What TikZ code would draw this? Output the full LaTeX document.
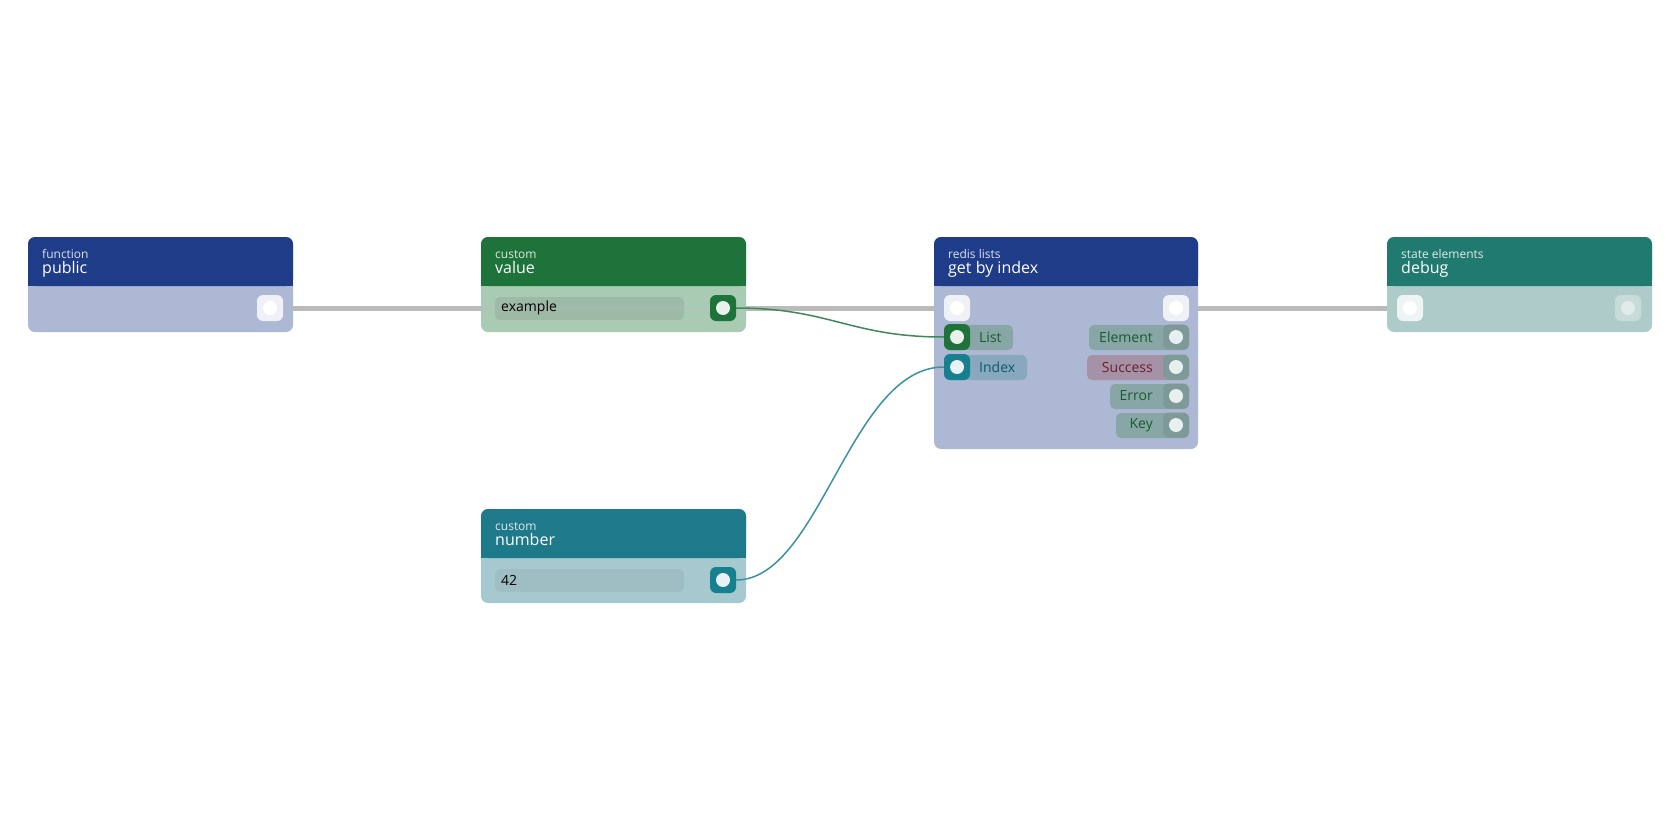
\documentclass[tikz,border=0pt]{standalone}
\usepackage{fontspec}
\setmainfont{Open Sans}
\begin{document}
\begin{tikzpicture}[x=1pt,y=-1pt,
 body/.style={rounded corners=7pt},
 sub/.style={anchor=base west,text=white,opacity=.85,font=\fontsize{12}{12}\selectfont,inner sep=0},
 ttl/.style={anchor=base west,text=white,font=\fontsize{16}{16}\selectfont,inner sep=0},
 port/.style={fill=#1,rounded corners=6pt,minimum size=26pt,inner sep=0},
 dot/.style={circle,fill=#1,minimum size=14pt,inner sep=0},
 lbl/.style={font=\fontsize{14}{14}\selectfont,inner sep=0},
 exec/.style={line width=5pt,draw=black!27},
]
\definecolor{hblue}{HTML}{1F3C88}\definecolor{bblue}{HTML}{ADB8D4}
\definecolor{hgreen}{HTML}{1D7339}\definecolor{bgreen}{HTML}{A9CBB4}
\definecolor{hteal}{HTML}{1E7A8A}\definecolor{bteal}{HTML}{A6C9CF}
\definecolor{hdeb}{HTML}{217A70}\definecolor{bdeb}{HTML}{AFCBC9}
\definecolor{pteal}{HTML}{17808F}
\definecolor{succ}{HTML}{A592A6}\definecolor{succt}{HTML}{6E1E2D}
\definecolor{idxb}{HTML}{87A8BF}\definecolor{lblb}{HTML}{88A6A5}
\definecolor{fgreen}{HTML}{9CBAA5}\definecolor{fteal}{HTML}{9EBEC3}
\path[use as bounding box] (0,0) rectangle (1680,840);
\fill[white] (0,0) rectangle (1680,840);
% ports coordinates
\coordinate (pubout) at (270,308);
\coordinate (valout) at (723,308);
\coordinate (getin) at (957,308);
\coordinate (getout) at (1176,308);
\coordinate (listin) at (957,337);
\coordinate (idxin) at (957,367);
\coordinate (debin) at (1410,308);
\coordinate (numout) at (723,580);
% exec edges behind
\draw[exec] (pubout) -- (getin);
\draw[exec] (getout) -- (debin);
% node bodies
\fill[bblue,body] (28,237) rectangle (293,332);
\fill[hblue,rounded corners=7pt] (28,286) |- (293,237) |- cycle;
\fill[hblue] (28,276) rectangle (293,286);
\fill[bgreen,body] (481,237) rectangle (746,332);
\fill[hgreen,rounded corners=7pt] (481,286) |- (746,237) |- cycle;
\fill[hgreen] (481,276) rectangle (746,286);
\fill[bblue,body] (934,237) rectangle (1198,449);
\fill[hblue,rounded corners=7pt] (934,286) |- (1198,237) |- cycle;
\fill[hblue] (934,276) rectangle (1198,286);
\fill[bdeb,body] (1387,237) rectangle (1652,332);
\fill[hdeb,rounded corners=7pt] (1387,286) |- (1652,237) |- cycle;
\fill[hdeb] (1387,276) rectangle (1652,286);
\fill[bteal,body] (481,509) rectangle (746,603);
\fill[hteal,rounded corners=7pt] (481,558) |- (746,509) |- cycle;
\fill[hteal] (481,548) rectangle (746,558);
% headers
\node[sub] (s1) at (42,258) {function}; \node[ttl] (t1) at (42,273) {public};
\node[sub] (s2) at (495,258) {custom}; \node[ttl] (t2) at (495,273) {value};
\node[sub] (s3) at (948,258) {redis lists}; \node[ttl] (t3) at (948,273) {get by index};
\node[sub] (s4) at (1401,258) {state elements}; \node[ttl] (t4) at (1401,273) {debug};
\node[sub] (s5) at (495,530) {custom}; \node[ttl] (t5) at (495,545) {number};
% fields
\fill[fgreen,rounded corners=5pt] (495,297) rectangle (684,320);
\draw[line width=5pt,draw=black!27,opacity=.2] (481,308) -- (746,308);
\node[lbl,anchor=west] (ex) at (501,308) {example};
\fill[fteal,rounded corners=5pt] (495,569) rectangle (684,592);
\node[lbl,anchor=west] (n42) at (501,580) {42};
% get by index labels
\fill[lblb,rounded corners=5pt] (944,325) rectangle (1013,350);
\node[lbl,anchor=west,text=hgreen!80!black] (Ll) at (979,337) {List};
\fill[idxb,rounded corners=5pt] (944,355) rectangle (1027,380);
\node[lbl,anchor=west,text=pteal!70!black] (Il) at (979,367) {Index};
\fill[lblb,rounded corners=5pt] (1089,325) rectangle (1189,350);
\node[lbl,anchor=east,text=hgreen!80!black] (El) at (1153,337) {Element};
\fill[succ,rounded corners=5pt] (1087,355) rectangle (1189,380);
\node[lbl,anchor=east,text=succt] (Sl) at (1153,367) {Success};
\fill[lblb,rounded corners=5pt] (1110,384) rectangle (1189,409);
\node[lbl,anchor=east,text=hgreen!80!black] (Erl) at (1153,396) {Error};
\fill[lblb,rounded corners=5pt] (1116,413) rectangle (1189,438);
\node[lbl,anchor=east,text=hgreen!80!black] (Kl) at (1153,425) {Key};
% right output dots
\foreach \yy/\n in {337/a,367/b,396/c,425/d}{
 \fill[black!8!lblb,rounded corners=6pt] (1163,\yy-12.5) rectangle (1189,\yy+12.5);
 \node[dot=white!70!bdeb] (o\n) at (1176,\yy) {};}
% ports
\node[port=white!80!bblue] (p1) at (pubout) {}; \node[dot=white] at (p1) {};
\node[port=hgreen] (p2) at (valout) {}; \node[dot=white!90!hgreen] at (p2) {};
\node[port=white!80!bblue] (p3) at (getin) {}; \node[dot=white] at (p3) {};
\node[port=white!80!bblue] (p4) at (getout) {}; \node[dot=white] at (p4) {};
\node[port=hgreen] (p5) at (listin) {}; \node[dot=white!90!hgreen] at (p5) {};
\node[port=pteal] (p6) at (idxin) {}; \node[dot=white!90!pteal] at (p6) {};
\node[port=white!80!bdeb] (p7) at (debin) {}; \node[dot=white] at (p7) {};
\node[port=white!30!bdeb] (p8) at (1628,308) {}; \node[dot=white!60!bdeb] at (p8) {};
\node[port=pteal] (p9) at (numout) {}; \node[dot=white!90!pteal] at (p9) {};
% data edges
\draw[hgreen!85!white,line width=1.5pt] (p2.east) .. controls (830,308) and (850,337) .. (p5.west);
\draw[pteal!85!white,line width=1.5pt] (p9.east) .. controls (820,580) and (850,367) .. (p6.west);
\end{tikzpicture}
\end{document}
